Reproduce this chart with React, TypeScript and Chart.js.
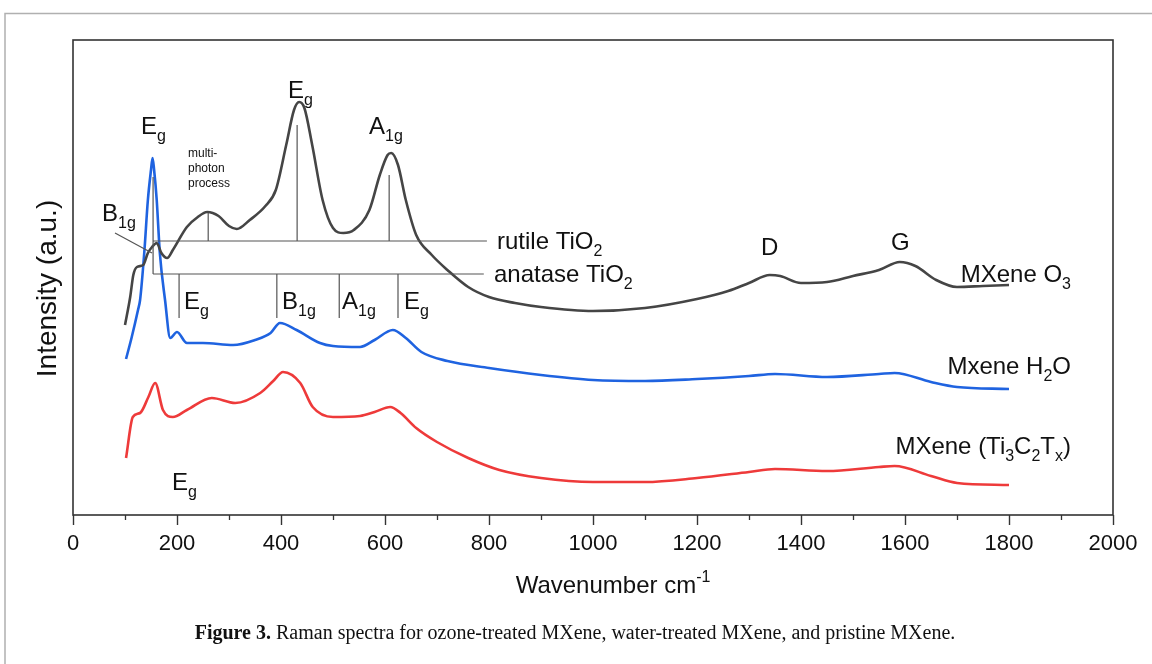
import React, { useEffect, useRef } from "react";
import { Chart, registerables } from "chart.js";
Chart.register(...registerables);

// ---- data (wavenumber cm-1, intensity a.u.) ----
const o3Wave = [100, 110, 116, 123, 135, 144, 152, 161, 170, 181, 192, 219, 240, 258, 280, 300, 315, 340, 370, 390, 410, 425, 435, 445, 460, 480, 500, 520, 540, 570, 590, 605, 612, 625, 640, 660, 690, 720, 760, 800, 850, 900, 1000, 1100, 1200, 1260, 1300, 1340, 1360, 1400, 1450, 1500, 1550, 1590, 1620, 1660, 1700, 1750, 1800];
const o3Int = [190, 218, 240, 248, 250, 262, 268, 272, 262, 257, 265, 288, 298, 303, 299, 289, 286, 295, 309, 325, 370, 405, 413, 407, 370, 315, 287, 282, 285, 305, 340, 360, 362, 350, 315, 280, 260, 245, 228, 218, 212, 208, 204, 207, 216, 224, 232, 240, 239, 232, 233, 239, 245, 253, 249, 235, 228, 229, 230];

const h2oWave = [102, 113, 125, 129, 137, 144, 150, 153, 156, 161, 167, 177, 187, 200, 219, 250, 308, 350, 380, 398, 430, 475, 500, 552, 580, 615, 640, 670, 720, 800, 900, 1000, 1100, 1200, 1300, 1350, 1450, 1550, 1580, 1650, 1700, 1800];
const h2oInt = [156, 178, 205, 215, 262, 315, 345, 357, 345, 315, 262, 215, 177, 183, 172, 172, 170, 175, 182, 192, 185, 172, 169, 168, 175, 185, 177, 163, 154, 147, 140, 135, 134, 136, 139, 141, 138, 141, 142, 133, 128, 126];

const pristineWave = [102, 115, 129, 145, 158, 173, 192, 219, 267, 312, 360, 385, 404, 437, 461, 500, 552, 580, 610, 630, 660, 700, 760, 820, 900, 1000, 1100, 1200, 1300, 1350, 1450, 1550, 1580, 1650, 1700, 1800];
const pristineInt = [57, 98, 102, 118, 132, 105, 98, 105, 117, 112, 122, 134, 143, 132, 108, 98, 99, 103, 108, 102, 87, 73, 57, 45, 37, 33, 33, 37, 43, 46, 44, 48, 49, 39, 32, 30];

// reference phonon modes
const rutileModes = [260, 431, 608];
const rutileTops = [302, 390, 340];
const rutileLevel = 274;
const rutileSpan = [154, 796];
const anataseModes = [204, 392, 512, 625];
const anataseLevel = 241;
const anataseBottom = 197;
const anataseSpan = [154, 790];
const anataseLowEg = 154;
const anataseLowEgTop = 338;

const xTicks = [0, 200, 400, 600, 800, 1000, 1200, 1400, 1600, 1800, 2000];

const toXY = (xs: number[], ys: number[]) => xs.map((x, i) => ({ x, y: ys[i] }));

const SANS = "'Liberation Sans', Arial, sans-serif";
type Part = [string, "n" | "sub" | "sup"];
function drawRich(ctx: CanvasRenderingContext2D, parts: Part[], x: number, y: number, size: number, align: "left" | "center" | "right" = "left") {
  const fontFor = (k: string) => `${k === "n" ? size : Math.round(size * 0.66)}px ${SANS}`;
  let total = 0;
  for (const [t, k] of parts) {
    ctx.font = fontFor(k);
    total += ctx.measureText(t).width;
  }
  let cx = align === "center" ? x - total / 2 : align === "right" ? x - total : x;
  ctx.textAlign = "left";
  ctx.textBaseline = "alphabetic";
  for (const [t, k] of parts) {
    ctx.font = fontFor(k);
    const dy = k === "sub" ? size * 0.3 : k === "sup" ? -size * 0.45 : 0;
    ctx.fillText(t, cx, y + dy);
    cx += ctx.measureText(t).width;
  }
}

const annot = {
  id: "annot",
  afterDraw(chart: any) {
    const { ctx, chartArea: a, scales } = chart;
    const xs = scales.x, ys = scales.y;
    const px = (v: number) => xs.getPixelForValue(v);
    const py = (v: number) => ys.getPixelForValue(v);
    ctx.save();
    // outer figure frame
    ctx.strokeStyle = "#b0b0b0";
    ctx.lineWidth = 1.5;
    ctx.beginPath();
    ctx.moveTo(5, 664);
    ctx.lineTo(5, 13.5);
    ctx.lineTo(1152, 13.5);
    ctx.stroke();
    // plot box
    ctx.strokeStyle = "#333";
    ctx.lineWidth = 1.6;
    ctx.strokeRect(a.left, a.top, a.right - a.left, a.bottom - a.top);
    // minor ticks
    ctx.lineWidth = 1.3;
    ctx.beginPath();
    for (let v = 100; v < 2000; v += 200) {
      const x = Math.round(px(v)) + 0.5;
      ctx.moveTo(x, a.bottom);
      ctx.lineTo(x, a.bottom + 5);
    }
    ctx.stroke();
    // reference mode lines
    ctx.strokeStyle = "#555";
    ctx.lineWidth = 1.2;
    ctx.beginPath();
    ctx.moveTo(px(rutileSpan[0]), py(rutileLevel));
    ctx.lineTo(px(rutileSpan[1]), py(rutileLevel));
    ctx.moveTo(px(anataseSpan[0]), py(anataseLevel));
    ctx.lineTo(px(anataseSpan[1]), py(anataseLevel));
    ctx.moveTo(px(anataseLowEg), py(anataseLevel));
    ctx.lineTo(px(anataseLowEg), py(anataseLowEgTop));
    rutileModes.forEach((m, i) => {
      ctx.moveTo(px(m), py(rutileLevel));
      ctx.lineTo(px(m), py(rutileTops[i]));
    });
    anataseModes.forEach((m) => {
      ctx.moveTo(px(m), py(anataseLevel));
      ctx.lineTo(px(m), py(anataseBottom));
    });
    // B1g pointer
    ctx.moveTo(115, 233);
    ctx.lineTo(152, 253);
    ctx.stroke();

    ctx.fillStyle = "#111";
    const L = 24;
    drawRich(ctx, [["E", "n"], ["g", "sub"]], 288, 98, L);
    drawRich(ctx, [["A", "n"], ["1g", "sub"]], 369, 134, L);
    drawRich(ctx, [["E", "n"], ["g", "sub"]], 141, 134, L);
    drawRich(ctx, [["B", "n"], ["1g", "sub"]], 102, 221, L);
    drawRich(ctx, [["E", "n"], ["g", "sub"]], 184, 309, L);
    drawRich(ctx, [["B", "n"], ["1g", "sub"]], 282, 309, L);
    drawRich(ctx, [["A", "n"], ["1g", "sub"]], 342, 309, L);
    drawRich(ctx, [["E", "n"], ["g", "sub"]], 404, 309, L);
    drawRich(ctx, [["E", "n"], ["g", "sub"]], 172, 490, L);
    drawRich(ctx, [["D", "n"]], 761, 255, L);
    drawRich(ctx, [["G", "n"]], 891, 250, L);
    drawRich(ctx, [["rutile TiO", "n"], ["2", "sub"]], 497, 249, L);
    drawRich(ctx, [["anatase TiO", "n"], ["2", "sub"]], 494, 282, L);
    drawRich(ctx, [["MXene O", "n"], ["3", "sub"]], 1071, 282, L, "right");
    drawRich(ctx, [["Mxene H", "n"], ["2", "sub"], ["O", "n"]], 1071, 374, L, "right");
    drawRich(ctx, [["MXene (Ti", "n"], ["3", "sub"], ["C", "n"], ["2", "sub"], ["T", "n"], ["x", "sub"], [")", "n"]], 1071, 454, L, "right");
    ctx.font = `12px ${SANS}`;
    ctx.fillText("multi-", 188, 157);
    ctx.fillText("photon", 188, 172);
    ctx.fillText("process", 188, 187);

    // axis titles
    drawRich(ctx, [["Wavenumber cm", "n"], ["-1", "sup"]], (a.left + a.right) / 2 + 20, 593, 24, "center");
    ctx.save();
    ctx.translate(56, (a.top + a.bottom) / 2 + 11);
    ctx.rotate(-Math.PI / 2);
    ctx.font = `28px ${SANS}`;
    ctx.textAlign = "center";
    ctx.textBaseline = "alphabetic";
    ctx.fillText("Intensity (a.u.)", 0, 0);
    ctx.restore();

    // caption
    const cap1 = "Figure 3.";
    const cap2 = " Raman spectra for ozone-treated MXene, water-treated MXene, and pristine MXene.";
    const SERIF = "'Liberation Serif', 'Times New Roman', serif";
    ctx.font = `bold 20px ${SERIF}`;
    const w1 = ctx.measureText(cap1).width;
    ctx.font = `20px ${SERIF}`;
    const w2 = ctx.measureText(cap2).width;
    const sx = 575 - (w1 + w2) / 2;
    ctx.textAlign = "left";
    ctx.font = `bold 20px ${SERIF}`;
    ctx.fillText(cap1, sx, 639);
    ctx.font = `20px ${SERIF}`;
    ctx.fillText(cap2, sx + w1, 639);
    ctx.restore();
  },
};

export default function App() {
  const ref = useRef<HTMLCanvasElement>(null);
  useEffect(() => {
    if (!ref.current) return;
    const chart = new Chart(ref.current, {
      type: "line",
      data: {
        datasets: [
          { label: "MXene O3", data: toXY(o3Wave, o3Int), borderColor: "#454545", borderWidth: 2.6 },
          { label: "Mxene H2O", data: toXY(h2oWave, h2oInt), borderColor: "#1f63e0", borderWidth: 2.6 },
          { label: "MXene (Ti3C2Tx)", data: toXY(pristineWave, pristineInt), borderColor: "#ee3a3a", borderWidth: 2.6 },
        ],
      },
      options: {
        responsive: false,
        animation: false,
        events: [],
        parsing: false as any,
        elements: { point: { radius: 0 }, line: { cubicInterpolationMode: "monotone", fill: false } },
        layout: { padding: { left: 0, top: 40, right: 39, bottom: 0 } },
        plugins: { legend: { display: false }, tooltip: { enabled: false } },
        scales: {
          x: {
            type: "linear",
            min: 0,
            max: 2000,
            afterFit: (s: any) => { s.height = 149; },
            afterBuildTicks: (s: any) => { s.ticks = xTicks.map((v) => ({ value: v })); },
            border: { display: false },
            grid: { display: true, drawOnChartArea: false, drawTicks: true, tickLength: 10, tickColor: "#333", tickWidth: 1.4 },
            ticks: {
              autoSkip: false,
              maxRotation: 0,
              padding: 6,
              color: "#111",
              font: { family: SANS, size: 22 },
              callback: (v: any) => String(v),
            },
          },
          y: {
            min: 0,
            max: 475,
            afterFit: (s: any) => { s.width = 73; },
            border: { display: false },
            grid: { display: false },
            ticks: { display: false },
          },
        },
      },
      plugins: [annot],
    });
    return () => chart.destroy();
  }, []);
  return (
    <canvas
      ref={ref}
      width={1152}
      height={664}
      style={{ position: "fixed", left: 0, top: 0, width: 1152, height: 664, background: "#fff" }}
    />
  );
}
